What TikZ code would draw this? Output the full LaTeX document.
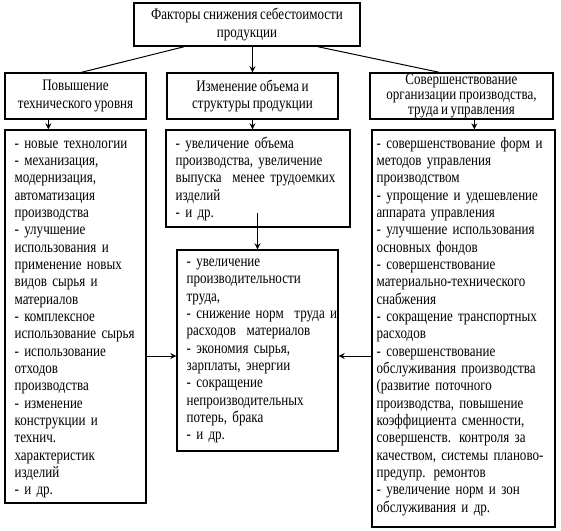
\documentclass[tikz,border=0pt]{standalone}
\usepackage{fontspec}
\setmainfont[FakeStretch=0.815,WordSpace=0.8]{Liberation Serif}
\usetikzlibrary{arrows.meta,fit}
\begin{document}
\begin{tikzpicture}[x=0.75pt,y=-0.75pt,
  box/.style={draw, line width=1pt, inner sep=0pt},
  txt/.style={inner sep=0pt, anchor=base west, align=left, text width=180pt,
    font=\fontsize{12}{13}\selectfont},
  head/.style={box, align=center, font=\fontsize{12}{13}\selectfont},
  con/.style={line width=0.75pt},
  arr/.style={con, -{Stealth[length=4.5pt,width=4.5pt]}}]
\useasboundingbox (0,0) rectangle (561,531);
% headers
\node[head, minimum width=169.5pt, minimum height=32.25pt] (top) at (247,24.5)
  {Факторы снижения себестоимости\\продукции};
\node[head, minimum width=105.75pt, minimum height=34.5pt] (h1) at (75.5,96)
  {Повышение\\технического уровня};
\node[head, minimum width=128.25pt, minimum height=34.5pt] (h2) at (252.5,96)
  {Изменение объема и\\структуры продукции};
\node[head, minimum width=137.25pt, minimum height=34.5pt,
  font=\fontsize{12}{11}\selectfont] (h3) at (461.5,96)
  {Совершенствование\\организации производства,\\труда и управления};
% body boxes
\node[box, fit={(5,130) (146,503)}] (l1) {};
\node[box, fit={(166,130) (350,227)}] (m1) {};
\node[box, fit={(177,250) (338,451)}] (c) {};
\node[box, fit={(372,130) (555,527)}] (r1) {};
% texts
\node[txt] (tl1) at ([xshift=7.5pt,yshift=-14.25pt]l1.north west) {%
- новые технологии\\
- механизация,\\
модернизация,\\
автоматизация\\
производства\\
- улучшение\\
использования и\\
применение новых\\
видов сырья и\\
материалов\\
- комплексное\\
использование сырья\\
- использование\\
отходов\\
производства\\
- изменение\\
конструкции и\\
технич.\\
характеристик\\
изделий\\
- и др.};
\node[txt] (tm1) at ([xshift=7.5pt,yshift=-14.25pt]m1.north west) {%
- увеличение объема\\
производства, увеличение\\
выпуска\ \ менее трудоемких\\
изделий\\
- и др.};
\node[txt] (tc) at ([xshift=7.5pt,yshift=-13pt]c.north west) {%
- увеличение\\
производительности\\
труда,\\
- снижение норм\ \ труда и\\
расходов\ \ материалов\\
- экономия сырья,\\
зарплаты, энергии\\
- сокращение\\
непроизводительных\\
потерь, брака\\
- и др.};
\node[txt] (tr1) at ([xshift=3.75pt,yshift=-14.25pt]r1.north west) {%
- совершенствование форм и\\
методов управления\\
производством\\
- упрощение и удешевление\\
аппарата управления\\
- улучшение использования\\
основных фондов\\
- совершенствование\\
материально-технического\\
снабжения\\
- сокращение транспортных\\
расходов\\
- совершенствование\\
обслуживания производства\\
(развитие поточного\\
производства, повышение\\
коэффициента сменности,\\
совершенств. контроля за\\
качеством, системы планово-\\
предупр. ремонтов\\
- увеличение норм и зон\\
обслуживания и др.};
% connectors
\draw[con] ([xshift=38.25pt]top.south west) -- ([xshift=57.75pt]h1.north west);
\draw[arr] (top.south -| h2.north) -- (h2.north);
\draw[con] ([xshift=-32.25pt]top.south east) -- ([xshift=52.5pt]h3.north west);
\draw[arr] ([xshift=33pt]h1.south west) -- ([xshift=33pt]l1.north west);
\draw[arr] (h2.south) -- (h2.south |- m1.north);
\draw[arr] ([xshift=78.75pt]h3.south west) -- ([xshift=78.75pt]h3.south west |- r1.north);
\draw[arr] ([yshift=11.25pt]m1.south -| c.north) -- (c.north);
\draw[arr] ([yshift=-4.125pt]c.west -| l1.east) -- ([yshift=-4.125pt]c.west);
\draw[arr] ([yshift=-4.125pt]c.east -| r1.west) -- ([yshift=-4.125pt]c.east);
\end{tikzpicture}
\end{document}
